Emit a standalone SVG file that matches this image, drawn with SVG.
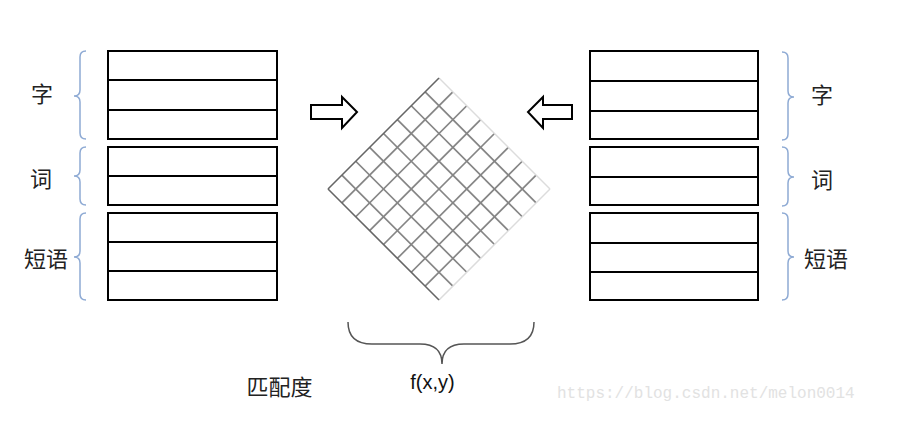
<svg xmlns="http://www.w3.org/2000/svg" width="898" height="435" viewBox="0 0 898 435">
<style>
.box{fill:#fff;stroke:#000;stroke-width:2}
.row{stroke:#000;stroke-width:2}
.brace{fill:none;stroke:#8eaad4;stroke-width:1.5}
.lbl{font-family:"Noto Sans CJK SC","Noto Sans",sans-serif;font-size:22px;fill:#222;text-anchor:middle}
.g{stroke:#858585;stroke-width:1.7}
.ge{stroke:#666;stroke-width:1.6}
.gf{stroke:#dcdcdc;stroke-width:1.5}
.arrow{fill:#fff;stroke:#000;stroke-width:2;stroke-linejoin:miter}
</style>
<rect width="898" height="435" fill="#fff"/>

<g id="left-stack">
<rect class="box" x="108" y="51" width="169" height="88"/>
<line class="row" x1="108" y1="80" x2="277" y2="80"/>
<line class="row" x1="108" y1="110" x2="277" y2="110"/>
<rect class="box" x="108" y="147" width="169" height="58"/>
<line class="row" x1="108" y1="176" x2="277" y2="176"/>
<rect class="box" x="108" y="213" width="169" height="87"/>
<line class="row" x1="108" y1="242" x2="277" y2="242"/>
<line class="row" x1="108" y1="271" x2="277" y2="271"/>
</g>

<g id="right-stack">
<rect class="box" x="590" y="51" width="168" height="88"/>
<line class="row" x1="590" y1="81" x2="758" y2="81"/>
<line class="row" x1="590" y1="111" x2="758" y2="111"/>
<rect class="box" x="590" y="147" width="168" height="58"/>
<line class="row" x1="590" y1="177" x2="758" y2="177"/>
<rect class="box" x="590" y="213" width="168" height="87"/>
<line class="row" x1="590" y1="243" x2="758" y2="243"/>
<line class="row" x1="590" y1="272" x2="758" y2="272"/>
</g>

<g id="left-labels">
<path class="brace" d="M86,51 Q80,51 80,57 L80,90 Q80,96 74,96 Q80,96 80,102 L80,133 Q80,139 86,139"/>
<path class="brace" d="M86,147 Q80,147 80,153 L80,170 Q80,176 74,176 Q80,176 80,182 L80,199 Q80,205 86,205"/>
<path class="brace" d="M86,213 Q80,213 80,219 L80,251 Q80,257 74,257 Q80,257 80,263 L80,294 Q80,300 86,300"/>
<text class="lbl" x="42" y="102">字</text>
<text class="lbl" x="41" y="187">词</text>
<text class="lbl" x="46" y="267">短语</text>
</g>

<g id="right-labels">
<path class="brace" d="M782,52 Q788,52 788,58 L788,91 Q788,97 794,97 Q788,97 788,103 L788,134 Q788,140 782,140"/>
<path class="brace" d="M782,147 Q788,147 788,153 L788,171 Q788,177 794,177 Q788,177 788,183 L788,200 Q788,206 782,206"/>
<path class="brace" d="M782,213 Q788,213 788,219 L788,251 Q788,257 794,257 Q788,257 788,263 L788,294 Q788,300 782,300"/>
<text class="lbl" x="822" y="103">字</text>
<text class="lbl" x="822" y="188">词</text>
<text class="lbl" x="826" y="267">短语</text>
</g>

<g id="connectors">
<polygon class="arrow" points="311,105 342,105 342,97 357,112 342,128 342,119 311,119"/>
<polygon class="arrow" points="572,105 543,105 543,97 528,112 543,128 543,119 572,119"/>
</g>

<g id="matrix">
<line class="g" x1="341.875" y1="202.875" x2="452.875" y2="91.875"/>
<line class="g" x1="355.75" y1="216.75" x2="466.75" y2="105.75"/>
<line class="g" x1="369.625" y1="230.625" x2="480.625" y2="119.625"/>
<line class="g" x1="383.5" y1="244.5" x2="494.5" y2="133.5"/>
<line class="g" x1="397.375" y1="258.375" x2="508.375" y2="147.375"/>
<line class="g" x1="411.25" y1="272.25" x2="522.25" y2="161.25"/>
<line class="g" x1="425.125" y1="286.125" x2="536.125" y2="175.125"/>
<line class="g" x1="341.875" y1="175.125" x2="452.875" y2="286.125"/>
<line class="g" x1="355.75" y1="161.25" x2="466.75" y2="272.25"/>
<line class="g" x1="369.625" y1="147.375" x2="480.625" y2="258.375"/>
<line class="g" x1="383.5" y1="133.5" x2="494.5" y2="244.5"/>
<line class="g" x1="397.375" y1="119.625" x2="508.375" y2="230.625"/>
<line class="g" x1="411.25" y1="105.75" x2="522.25" y2="216.75"/>
<line class="g" x1="425.125" y1="91.875" x2="536.125" y2="202.875"/>
<line class="gf" x1="439" y1="300" x2="550" y2="189"/>
<line class="gf" x1="439" y1="78" x2="550" y2="189"/>
<line class="ge" x1="328" y1="189" x2="439" y2="78"/>
<line class="ge" x1="328" y1="189" x2="439" y2="300"/>
</g>

<g id="fxy">
<path d="M348,322 Q348,344 372,344 L420,344 Q442,344 442,364 Q442,344 464,344 L510,344 Q534,344 534,322" fill="none" stroke="#555" stroke-width="1.5"/>
<text x="432.5" y="389" font-family="'Liberation Sans',Arial,sans-serif" font-size="20" fill="#111" text-anchor="middle">f(x,y)</text>
</g>

<text x="279.5" y="395" font-family="'Noto Sans CJK SC',sans-serif" font-size="22" fill="#222" text-anchor="middle">匹配度</text>
<text x="557" y="398" font-family="'Liberation Mono',monospace" font-size="16" fill="#e2e2e2">https://blog.csdn.net/melon0014</text>
</svg>
